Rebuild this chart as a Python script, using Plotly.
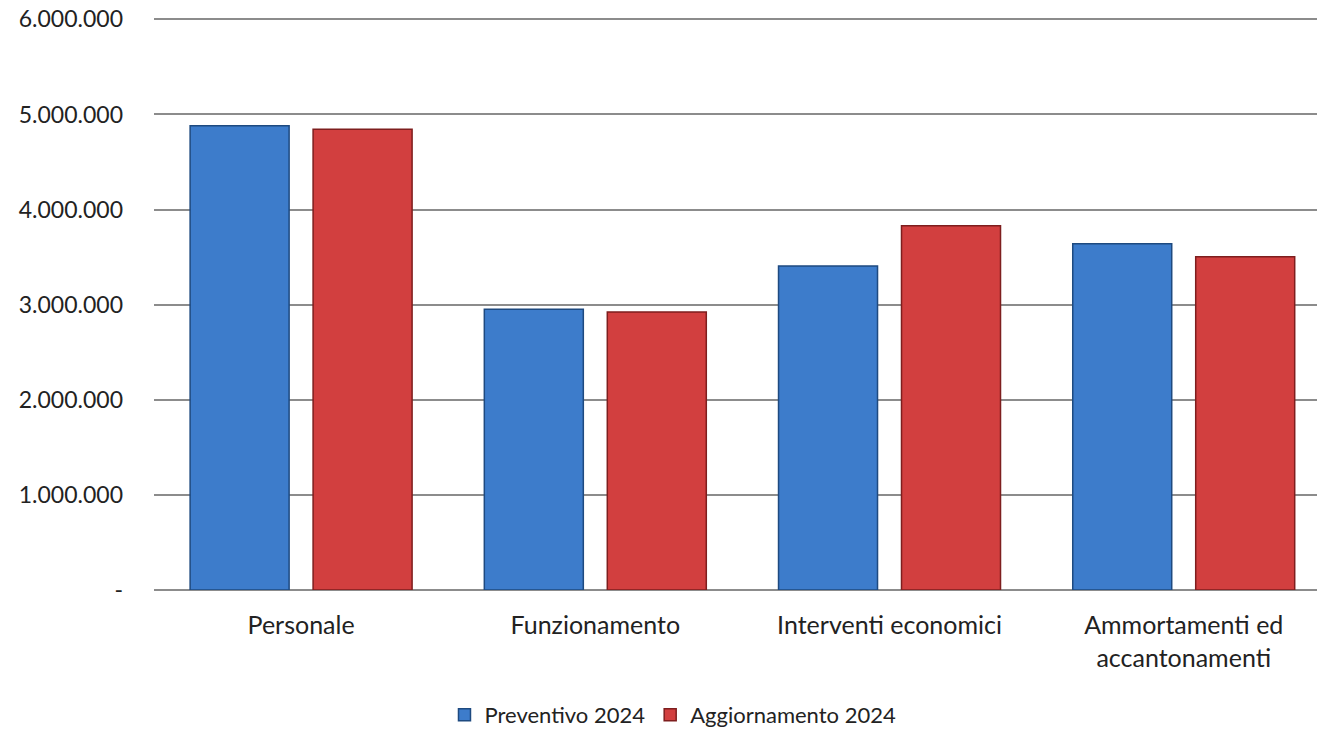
import plotly.graph_objects as go

categories = ["Personale", "Funzionamento", "Interventi economici", "Ammortamenti ed<br>accantonamenti"]
preventivo_2024 = [4882000, 2953000, 3408000, 3640000]
aggiornamento_2024 = [4844000, 2924000, 3830000, 3503000]
series_names = ["Preventivo 2024", "Aggiornamento 2024"]
tick_values = [0, 1000000, 2000000, 3000000, 4000000, 5000000, 6000000]
tick_labels = ["-", "1.000.000", "2.000.000", "3.000.000", "4.000.000", "5.000.000", "6.000.000"]

FONT = "Lato, Open Sans, sans-serif"

fig = go.Figure()
fig.add_trace(go.Bar(
    x=categories, y=preventivo_2024, name=series_names[0],
    marker=dict(color="#3D7CCB", line=dict(color="#1E4A80", width=1.5)),
))
fig.add_trace(go.Bar(
    x=categories, y=aggiornamento_2024, name=series_names[1],
    marker=dict(color="#D23F3F", line=dict(color="#7E1E1E", width=1.5)),
))

fig.update_layout(
    width=1317, height=732,
    margin=dict(l=154, r=0, t=17, b=142),
    paper_bgcolor="white", plot_bgcolor="white",
    barmode="group", bargap=0.164, bargroupgap=0.195,
    font=dict(family=FONT, size=23, color="#222222"),
    showlegend=True,
    legend=dict(
        orientation="h", xref="container", yref="container",
        x=0.511, xanchor="center", y=0.0232, yanchor="middle",
        font=dict(size=22, color="#222222"),
        traceorder="normal",
    ),
)
fig.update_yaxes(
    range=[0, 6025000], tickvals=tick_values, ticktext=tick_labels,
    showgrid=True, gridcolor="#8C8C8C", gridwidth=2,
    zeroline=True, zerolinecolor="#8C8C8C", zerolinewidth=2,
    showline=False, ticks="", ticklabelstandoff=30,
    ticklabeloverflow="allow", automargin=False,
    tickfont=dict(size=23, family=FONT, color="#222222"),
)
fig.update_xaxes(
    range=[-0.5, 3.453], automargin=False,
    showgrid=False, showline=False, ticks="",
    tickfont=dict(size=25, family=FONT, color="#222222"),
    ticklabelstandoff=18,
)

# remove the default 8px page margin so the figure fills the window exactly
fig.write_html(
    "out.html",
    config={"displayModeBar": False},
    post_script="document.body.style.margin='0';",
)
